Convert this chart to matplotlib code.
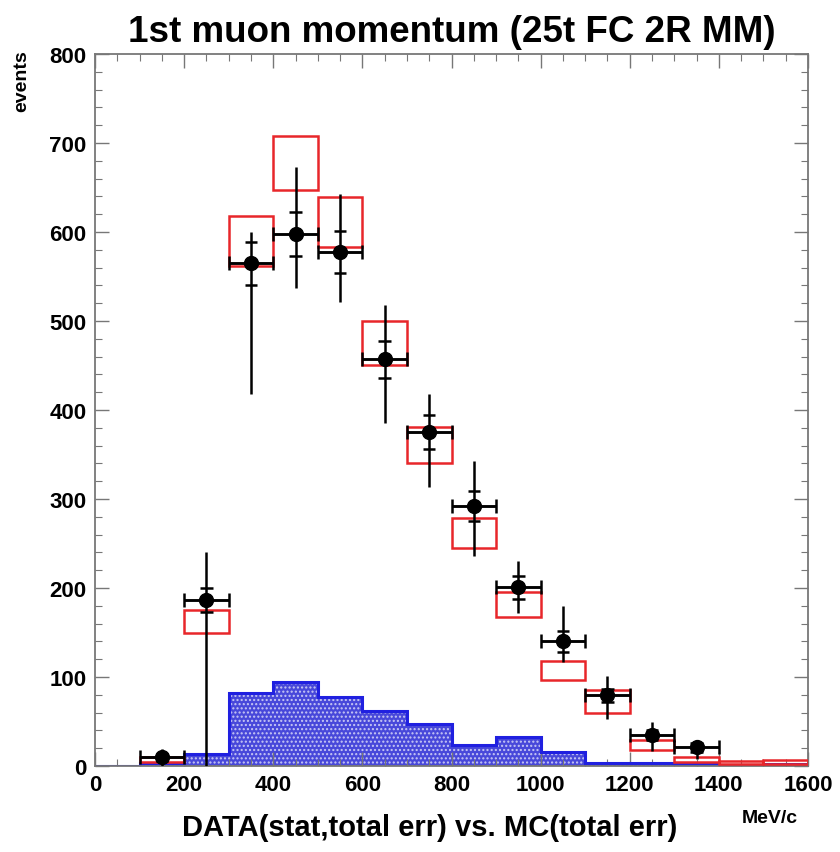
import matplotlib
matplotlib.use("Agg")
import matplotlib.pyplot as plt
from matplotlib.patches import Rectangle
from matplotlib.ticker import MultipleLocator
import numpy as np

plt.rcParams['font.family'] = ['Liberation Sans', 'DejaVu Sans']
plt.rcParams['hatch.linewidth'] = 1.0

# ---- data ----
bin_edges = [0, 100, 200, 300, 400, 500, 600, 700, 800, 900, 1000, 1100, 1200, 1300, 1400, 1500, 1600]

# background (blue shaded histogram)
bkg = [0, 3, 13, 82, 94, 77, 62, 47, 24, 33, 16, 3, 3, 2, 1, 2]

# MC total error boxes (low, high) per bin, starting at bin 100-200
mc_lo = [4, 149, 562, 647, 583, 451, 341, 245, 167, 97, 60, 18, 5, 2, 2]
mc_hi = [10, 175, 618, 708, 639, 500, 381, 279, 195, 118, 85, 29, 10, 6, 7]
mc_left = [100, 200, 300, 400, 500, 600, 700, 800, 900, 1000, 1100, 1200, 1300, 1400, 1500]

# DATA points
data_x = [150, 250, 350, 450, 550, 650, 750, 850, 950, 1050, 1150, 1250, 1350]
data_y = [10, 186, 565, 598, 577, 457, 375, 292, 201, 141, 80, 35, 21]
stat_lo = [6, 173, 541, 573, 554, 436, 356, 275, 188, 128, 72, 29, 16]
stat_hi = [14, 200, 589, 622, 601, 478, 394, 309, 214, 152, 86, 41, 26]
tot_lo = [0, 0, 418, 537, 521, 385, 313, 236, 172, 117, 53, 17, 8]
tot_hi = [19, 240, 600, 673, 643, 518, 418, 343, 230, 180, 101, 49, 28]

title = "1st muon momentum (25t FC 2R MM)"
xlabel = "DATA(stat,total err) vs. MC(total err)"
xunit = "MeV/c"
ylabel = "events"

fig = plt.figure(figsize=(8.4, 8.53), dpi=100)
ax = fig.add_axes([0.1131, 0.1008, 0.8488, 0.8347])
ax.set_xlim(0, 1600)
ax.set_ylim(0, 800)

# blue histogram
edges = np.array(bin_edges)
vals = np.array(bkg)
ax.stairs(vals, edges, fill=True, facecolor='#4848da', edgecolor='#c8c8f4',
          hatch='....', linewidth=0, zorder=1)
ax.stairs(vals, edges, fill=False, edgecolor='#2020e0', linewidth=2.2, zorder=2)

# MC boxes
for l, lo, hi in zip(mc_left, mc_lo, mc_hi):
    ax.add_patch(Rectangle((l, lo), 100, hi - lo, fill=False,
                           edgecolor='#e8262a', linewidth=1.8, zorder=3))

# data
dx = np.array(data_x)
dy = np.array(data_y)
ax.errorbar(dx, dy, xerr=50,
            yerr=[dy - np.array(tot_lo), np.array(tot_hi) - dy],
            fmt='o', color='black', ms=10, elinewidth=1.8, capsize=0,
            zorder=5)
# caps on horizontal bars
ax.errorbar(dx, dy, xerr=50, fmt='none', ecolor='black', elinewidth=1.8,
            capsize=5, capthick=1.8, zorder=5)
# stat ticks
for x, lo, hi in zip(data_x, stat_lo, stat_hi):
    ax.hlines([lo, hi], x - 14, x + 14, colors='black', linewidth=1.8, zorder=5)

# axes styling
for s in ax.spines.values():
    s.set_color('#777777')
    s.set_linewidth(1.3)
ax.xaxis.set_major_locator(MultipleLocator(200))
ax.xaxis.set_minor_locator(MultipleLocator(50))
ax.yaxis.set_major_locator(MultipleLocator(100))
ax.yaxis.set_minor_locator(MultipleLocator(20))
ax.tick_params(which='both', direction='in', top=True, right=True, color='#777777')
ax.tick_params(which='major', length=10, width=1.0)
ax.tick_params(which='minor', length=5, width=0.8)
ax.tick_params(axis='both', which='major', labelsize=16, pad=6)
for lab in ax.get_xticklabels() + ax.get_yticklabels():
    lab.set_fontweight('bold')

fig.text(0.538, 0.962, title, ha='center', va='center', fontsize=26.5, fontweight='bold')
fig.text(0.026, 0.905, ylabel, ha='center', va='center', rotation=90,
         fontsize=14, fontweight='bold')
fig.text(0.512, 0.029, xlabel, ha='center', va='center', fontsize=21, fontweight='bold')
fig.text(0.917, 0.041, xunit, ha='center', va='center', fontsize=14, fontweight='bold')

fig.savefig("out.png", dpi=100)
